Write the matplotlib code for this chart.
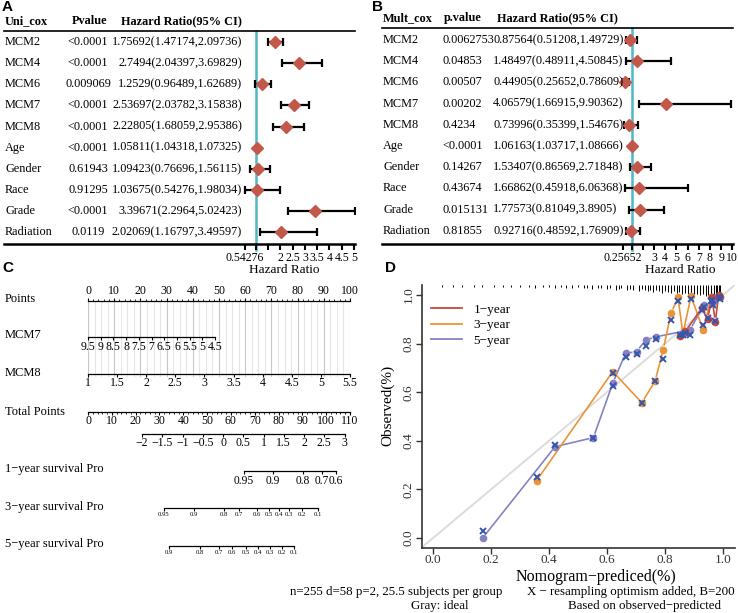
import numpy as np
import matplotlib.pyplot as plt

plt.rcParams['font.family'] = ['Liberation Serif', 'DejaVu Serif']

# ---------------- data ----------------
row_names = ['MCM2', 'MCM4', 'MCM6', 'MCM7', 'MCM8', 'Age', 'Gender', 'Race', 'Grade', 'Radiation']

uni_p = ['<0.0001', '<0.0001', '0.009069', '<0.0001', '<0.0001', '<0.0001', '0.61943', '0.91295', '<0.0001', '0.0119']
uni_hr = [1.75692, 2.7494, 1.2529, 2.53697, 2.22805, 1.05811, 1.09423, 1.03675, 3.39671, 2.02069]
uni_lo = [1.47174, 2.04397, 0.96489, 2.03782, 1.68059, 1.04318, 0.76696, 0.54276, 2.2964, 1.16797]
uni_hi = [2.09736, 3.69829, 1.62689, 3.15838, 2.95386, 1.07325, 1.56115, 1.98034, 5.02423, 3.49597]
uni_ticks = [0.54276, 1, 1.5, 2, 2.5, 3, 3.5, 4, 4.5, 5]
uni_ticklabels = ['0.54276', '', '', '2', '2.5', '3', '3.5', '4', '4.5', '5']

mult_p = ['0.0062753', '0.04853', '0.00507', '0.00202', '0.4234', '<0.0001', '0.14267', '0.43674', '0.015131', '0.81855']
mult_hr = [0.87564, 1.48497, 0.44905, 4.06579, 0.73996, 1.06163, 1.53407, 1.66862, 1.77573, 0.92716]
mult_lo = [0.51208, 0.48911, 0.25652, 1.66915, 0.35399, 1.03717, 0.86569, 0.45918, 0.81049, 0.48592]
mult_hi = [1.49729, 4.50845, 0.78609, 9.90362, 1.54676, 1.08666, 2.71848, 6.06368, 3.8905, 1.76909]
mult_ticks = [0.25652, 1, 2, 3, 4, 5, 6, 7, 8, 9, 10]
mult_ticklabels = ['0.25652', '', '', '3', '4', '5', '6', '7', '8', '9', '10']

# nomogram scales
points_ticks = [0, 10, 20, 30, 40, 50, 60, 70, 80, 90, 100]
mcm7_vals = [9.5, 9, 8.5, 8, 7.5, 7, 6.5, 6, 5.5, 5, 4.5]
mcm7_max_points = 48.5
mcm8_vals = [1, 1.5, 2, 2.5, 3, 3.5, 4, 4.5, 5, 5.5]
total_ticks = [0, 10, 20, 30, 40, 50, 60, 70, 80, 90, 100, 110]
lp_vals = [-2, -1.5, -1, -0.5, 0, 0.5, 1, 1.5, 2, 2.5, 3]
lp_tp = [22.7, 31.2, 39.7, 48.2, 56.7, 65.2, 73.7, 82.2, 90.7, 99.2, 107.7]
yr1_vals = [0.95, 0.9, 0.8, 0.7, 0.6]
yr1_tp = [65.5, 77.7, 90.3, 98.2, 104.1]
yr3_vals = [0.95, 0.9, 0.8, 0.7, 0.6, 0.5, 0.4, 0.3, 0.2, 0.1]
yr3_tp = [31.9, 44.5, 57.1, 63.4, 70.9, 75.9, 80.2, 84.3, 89.8, 96.6]
yr5_vals = [0.9, 0.8, 0.7, 0.6, 0.5, 0.4, 0.3, 0.2, 0.1]
yr5_tp = [34.0, 47.0, 55.0, 60.6, 66.3, 71.5, 76.4, 81.3, 86.5]

# calibration curves
cal1_pred = [0.852, 0.87, 0.927, 0.947, 0.962, 0.974, 0.985, 0.99]
cal1_obs = [0.83, 0.85, 0.946, 0.90, 0.99, 0.89, 1.0, 0.99]
cal1_corr = [0.835, 0.845, 0.94, 0.905, 0.98, 0.895, 0.99, 0.985]
cal3_pred = [0.357, 0.62, 0.72, 0.766, 0.794, 0.821, 0.845, 0.862, 0.89, 0.932, 0.96]
cal3_obs = [0.236, 0.685, 0.557, 0.645, 0.775, 0.925, 0.99, 0.84, 0.995, 0.856, 0.99]
cal3_corr = [0.252, 0.68, 0.555, 0.645, 0.735, 0.897, 0.975, 0.835, 0.985, 0.875, 0.975]
cal5_pred = [0.171, 0.421, 0.553, 0.62, 0.664, 0.702, 0.734, 0.769, 0.886, 0.935, 0.965]
cal5_obs = [0.0, 0.376, 0.413, 0.637, 0.76, 0.767, 0.815, 0.828, 0.856, 0.96, 0.97]
cal5_corr = [0.03, 0.383, 0.41, 0.625, 0.746, 0.756, 0.79, 0.818, 0.835, 0.95, 0.96]
rug_x = [0.03, 0.07, 0.10, 0.14, 0.17, 0.21, 0.24, 0.27, 0.30, 0.33, 0.35, 0.38, 0.40, 0.42,
         0.44, 0.46, 0.48, 0.50, 0.52, 0.53, 0.55, 0.57, 0.58, 0.60, 0.61, 0.63, 0.64, 0.65,
         0.67, 0.68, 0.69, 0.71, 0.72, 0.73, 0.74, 0.75, 0.76, 0.77, 0.78, 0.79, 0.80, 0.81,
         0.82, 0.83, 0.84, 0.85, 0.86, 0.87, 0.88, 0.89, 0.90, 0.91, 0.92, 0.93, 0.94, 0.95,
         0.96, 0.97, 0.975, 0.98, 0.985, 0.99]
rug_h = [0.006, 0.006, 0.006, 0.006, 0.006, 0.006, 0.008, 0.006, 0.008, 0.006, 0.01, 0.006, 0.008, 0.01,
         0.008, 0.01, 0.012, 0.008, 0.012, 0.01, 0.014, 0.01, 0.012, 0.016, 0.012, 0.018, 0.014, 0.012,
         0.02, 0.014, 0.018, 0.022, 0.016, 0.02, 0.024, 0.018, 0.026, 0.02, 0.024, 0.03, 0.022, 0.026,
         0.03, 0.024, 0.032, 0.028, 0.034, 0.03, 0.036, 0.032, 0.038, 0.034, 0.04, 0.036, 0.042, 0.045,
         0.048, 0.05, 0.05, 0.052, 0.055, 0.055]

W, H = 738, 613
fig = plt.figure(figsize=(W / 100, H / 100), dpi=100)


def add_ax(l, t, r, b):
    return fig.add_axes([l / W, 1 - b / H, (r - l) / W, (b - t) / H])


def ftext(px, py, s, **kw):
    fig.text(px / W, 1 - py / H, s, **kw)


diamond = '#c2584a'
cyan = '#4fb7c5'


def forest(box, one_px, px_hr, row0, step, p, hr, lo, hi, ticks, ticklabels,
           name_x, p_x, p_ha, hr_x, hr_ha, head, head_x, xlab_px):
    l, t, r, b = box
    ax = add_ax(l, t, r, b)
    hx = lambda px: 1 + (px - one_px) / px_hr
    ax.set_xlim(hx(l), hx(r))
    ax.set_ylim((b - row0) / step, (t - row0) / step)
    rows = np.arange(len(hr))
    hr = np.array(hr); lo = np.array(lo); hi = np.array(hi)
    ax.errorbar(hr, rows, xerr=[hr - lo, hi - hr], fmt='none', ecolor='black',
                elinewidth=1.6, capsize=3, capthick=1.6, zorder=2)
    ax.plot(hr, rows, 'D', color=diamond, ms=6.5, zorder=3)
    ax.axvline(1, ymin=-0.03, ymax=1, color=cyan, lw=1.8, clip_on=False, zorder=1)
    for i in rows:
        ax.text(hx(name_x), i, row_names[i], ha='left', va='center', fontsize=8.8)
        ax.text(hx(p_x), i, p[i], ha=p_ha, va='center', fontsize=8.8)
        ax.text(hx(hr_x), i, f'{hr[i]}({lo[i]},{hi[i]})', ha=hr_ha, va='center', fontsize=8.8)
    hy = (t - 10 - row0) / step
    for s, x, ha in zip(head, head_x, ['left', p_ha, hr_ha]):
        ax.text(hx(x), hy, s, ha=ha, va='center', fontsize=8.8, fontweight='bold')
    ax.text(hx(xlab_px), (270 - row0) / step, 'Hazard Ratio', ha='center', va='center', fontsize=9.5)
    ax.set_xticks(ticks)
    ax.set_xticklabels(ticklabels)
    ax.set_yticks([])
    ax.tick_params(axis='x', direction='out', length=4, width=1.5, pad=2, labelsize=8.5)
    for s in ['left', 'right']:
        ax.spines[s].set_visible(False)
    ax.spines['top'].set_linewidth(1.2)
    ax.spines['bottom'].set_linewidth(1.8)
    return ax


forest((4, 31, 355, 244), 256, 24.5, 42, 21.15, uni_p, uni_hr, uni_lo, uni_hi,
       uni_ticks, uni_ticklabels, 5, 88, 'center', 242, 'right',
       ['Uni_cox', 'Pvalue', 'Hazard Ratio(95% CI)'], [5, 90, 242], 284)
forest((382, 28, 733, 244), 631.5, 11.2, 40, 21.2, mult_p, mult_hr, mult_lo, mult_hi,
       mult_ticks, mult_ticklabels, 383, 442, 'left', 493, 'left',
       ['Mult_cox', 'p.value', 'Hazard Ratio(95% CI)'], [383, 444, 497], 680)

# ---------------- C: nomogram ----------------
axc = add_ax(88, 270, 350, 600)
axc.set_xlim(0, 100)
axc.set_ylim(600, 270)
axc.axis('off')

for v in np.arange(0, 101, 2.5):
    axc.plot([v, v], [301, 376], color='#c8c8c8' if v % 10 == 0 else '#e6e6e6', lw=0.8, zorder=0)


def nomo_axis(y, pos, labels, fs, above=False, minor=None):
    pos = np.asarray(pos, dtype=float)
    axc.plot([pos.min(), pos.max()], [y, y], color='black', lw=0.9, clip_on=False)
    d = -1 if above else 1
    axc.vlines(pos, y, y + 3 * d, color='black', lw=0.8, clip_on=False)
    if minor is not None:
        axc.vlines(minor, y, y + 1.8 * d, color='black', lw=0.6, clip_on=False)
    for p_, s in zip(pos, labels):
        axc.text(p_, y + 3.5 * d, s, ha='center', va='bottom' if above else 'top',
                 fontsize=fs, clip_on=False)


nomo_axis(301, points_ticks, [str(v) for v in points_ticks], 8.5, above=True,
          minor=np.arange(0, 101, 2))
nomo_axis(337, [(9.5 - v) * mcm7_max_points / 5 for v in mcm7_vals],
          [f'{v:g}' for v in mcm7_vals], 8.5)
nomo_axis(374, [(v - 1) * 100 / 4.5 for v in mcm8_vals], [f'{v:g}' for v in mcm8_vals], 8.5)
nomo_axis(412, [v * 100 / 110 for v in total_ticks], [str(v) for v in total_ticks], 8.5,
          above=False, minor=np.arange(0, 111, 2) * 100 / 110)
nomo_axis(434, [v * 100 / 110 for v in lp_tp], [f'{v:g}'.replace('-', '\u2212') for v in lp_vals], 8.5)
nomo_axis(471, [v * 100 / 110 for v in yr1_tp], [f'{v:g}' for v in yr1_vals], 8.3)
nomo_axis(508, [v * 100 / 110 for v in yr3_tp], [f'{v:g}' for v in yr3_vals], 4.8)
nomo_axis(546, [v * 100 / 110 for v in yr5_tp], [f'{v:g}' for v in yr5_vals], 4.8)

for s, y in [('Points', 299), ('MCM7', 335), ('MCM8', 373), ('Total Points', 412),
             ('1\u2212year survival Pro', 469), ('3\u2212year survival Pro', 507),
             ('5\u2212year survival Pro', 544)]:
    ftext(5, y, s, ha='left', va='center', fontsize=9)

# ---------------- D: calibration ----------------
axd = add_ax(421.5, 285.3, 734.5, 547.7)
axd.set_xlim(-0.04, 1.04)
axd.set_ylim(-0.04, 1.04)
for s in ['top', 'right']:
    axd.spines[s].set_visible(False)
for s in ['left', 'bottom']:
    axd.spines[s].set_linewidth(1.2)
    axd.spines[s].set_color('#333333')
axd.set_xticks([0, 0.2, 0.4, 0.6, 0.8, 1.0])
axd.set_yticks([0, 0.2, 0.4, 0.6, 0.8, 1.0])
axd.set_xticklabels(['0.0', '0.2', '0.4', '0.6', '0.8', '1.0'])
axd.set_yticklabels(['0.0', '0.2', '0.4', '0.6', '0.8', '1.0'], rotation=90, va='center')
axd.tick_params(direction='out', length=4, width=1, labelsize=9.5, colors='#333333')
axd.tick_params(axis='x', pad=0.5)
axd.tick_params(axis='y', pad=1)
axd.plot([-0.04, 1.04], [-0.04, 1.04], color='#dcdcdc', lw=1.4, zorder=1)
axd.vlines(rug_x, 1.04 - np.array(rug_h), 1.04, color='black', lw=0.7)

cols = {'1': '#c8473b', '3': '#ea9438', '5': '#8682c2'}


def b_line(x, y, color, gap=5.0):
    pts = axd.transData.transform(np.column_stack([x, y]))
    inv = axd.transData.inverted()
    for a, c in zip(pts[:-1], pts[1:]):
        d = c - a
        L = np.hypot(*d)
        if L <= 2 * gap:
            continue
        u = d / L
        seg = inv.transform(np.vstack([a + u * gap, c - u * gap]))
        axd.plot(seg[:, 0], seg[:, 1], color=color, lw=1.2, zorder=2)


for key, pr, ob, co in [('5', cal5_pred, cal5_obs, cal5_corr),
                        ('3', cal3_pred, cal3_obs, cal3_corr),
                        ('1', cal1_pred, cal1_obs, cal1_corr)]:
    b_line(pr, ob, cols[key])
    axd.plot(pr, ob, 'o', color=cols[key], ms=4.5, zorder=3)
    axd.plot(pr, co, 'x', color='#3556b0', ms=5, mew=1.4, zorder=4)

for key in ['1', '3', '5']:
    axd.plot([], [], color=cols[key], lw=1.3, label=f'{key}\u2212year')
axd.legend(loc='upper left', bbox_to_anchor=(0.01, 0.955), frameon=False, fontsize=9.5,
           handlelength=2.3, labelspacing=0.25, borderpad=0, handletextpad=0.9)

ftext(388, 405, 'Observed(%)', rotation=90, ha='center', va='center', fontsize=11)
ftext(596, 577, 'Nomogram\u2212prediced(%)', ha='center', va='center', fontsize=11.5)
ftext(396, 592, 'n=255 d=58 p=2, 25.5 subjects per group', ha='center', va='center', fontsize=9.3)
ftext(440, 606, 'Gray: ideal', ha='center', va='center', fontsize=9.3)
ftext(631, 592, 'X \u2212 resampling optimism added, B=200', ha='center', va='center', fontsize=9.3)
ftext(645, 606, 'Based on observed\u2212predicted', ha='center', va='center', fontsize=9.3)

# panel letters
for s, x, y in [('A', 2, 7), ('B', 372, 7), ('C', 2, 268), ('D', 385, 268)]:
    ftext(x, y, s, ha='left', va='center', fontsize=11, fontweight='bold', family='Liberation Sans')

fig.savefig('out.png', dpi=100)
